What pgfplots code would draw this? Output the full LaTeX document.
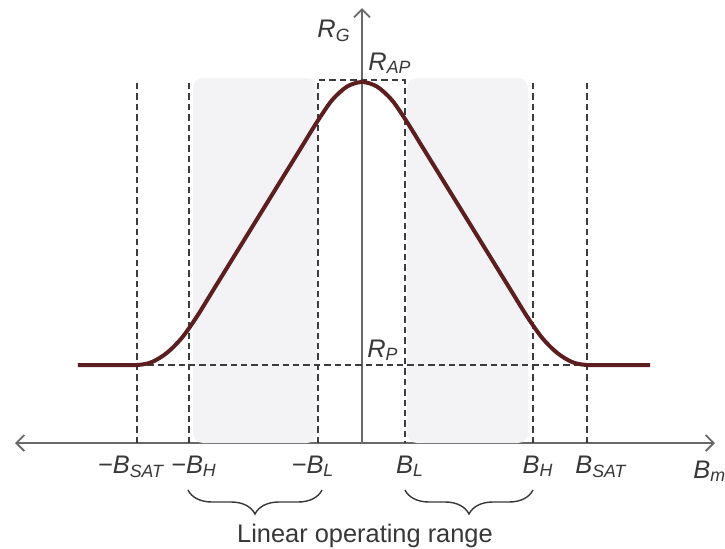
\documentclass[border=0pt]{standalone}
\usepackage{pgfplots}
\pgfplotsset{compat=1.18}
\usepackage{fontspec}
\setmainfont{Liberation Sans}
\usetikzlibrary{arrows.meta,decorations.pathreplacing}
\definecolor{curvec}{RGB}{92,30,30}
\definecolor{dashc}{RGB}{60,60,60}
\definecolor{shadec}{RGB}{243,243,246}
\definecolor{axisc}{RGB}{105,105,105}
\definecolor{txt}{RGB}{55,55,55}
\begin{document}
\begin{tikzpicture}[font=\fontsize{12.7}{15}\selectfont]
\begin{axis}[
  x=0.5pt, y=0.5pt,
  xmin=-347, xmax=353, ymin=0, ymax=435,
  enlargelimits=false,
  axis lines=middle,
  axis line style={axisc, line width=0.9pt},
  x axis line style={{Straight Barb[length=4pt,width=8pt]}-{Straight Barb[length=4pt,width=8pt]}},
  y axis line style={-{Straight Barb[length=4pt,width=8pt]}},
  xtick=\empty, ytick=\empty,
  clip=false,
]
% shaded linear ranges
\addplot[draw=none, fill=shadec, rounded corners=5pt] coordinates {(-169,0) (-169,365) (-45,365) (-45,0)} -- cycle;
\addplot[draw=none, fill=shadec, rounded corners=5pt] coordinates {(45,0) (45,365) (166,365) (166,0)} -- cycle;
% dashed guides
\pgfplotsset{dashline/.style={dashc, line width=0.9pt, dash pattern=on 3.2pt off 2pt}}
\addplot[dashline] coordinates {(-225,0) (-225,361)};
\addplot[dashline] coordinates {(-173,0) (-173,361)};
\addplot[dashline] coordinates {(171,0) (171,361)};
\addplot[dashline] coordinates {(225,0) (225,361)};
\addplot[dashline] coordinates {(-44,0) (-44,363) (43,363) (43,0)};
\addplot[dashline] coordinates {(-225,78) (225,78)};
% curve
\addplot[curvec, line width=2pt, smooth, tension=0.5] coordinates {
 (-284,78) (-255,78) (-225,78) (-210,81.0) (-195,90.2) (-180,105.3) (-165,126.6)
 (-150,150.9) (-135,175.2) (-120,199.5) (-105,223.8) (-90,248.1) (-75,272.4)
 (-60,296.7) (-45,321.0) (-30,342.8) (-15,356.4) (0,361)
 (15,356.4) (30,342.8) (45,321.0) (60,296.7) (75,272.4) (90,248.1) (105,223.8)
 (120,199.5) (135,175.2) (150,150.9) (165,126.6) (180,105.3) (195,90.2)
 (210,81.0) (225,78) (255,78) (288,78)
};
% labels
\node[txt, anchor=base] at (axis cs:-28,406) {\itshape R\textsubscript{G}};
\node[txt, anchor=base] at (axis cs:28,373) {\itshape R\textsubscript{AP}};
\node[txt, anchor=base] at (axis cs:21,86) {\itshape R\textsubscript{P}};
\node[txt, anchor=base] at (axis cs:-231,-30) {\itshape −B\textsubscript{SAT}};
\node[txt, anchor=base] at (axis cs:-168,-30) {\itshape −B\textsubscript{H}};
\node[txt, anchor=base] at (axis cs:-49,-30) {\itshape −B\textsubscript{L}};
\node[txt, anchor=base] at (axis cs:48,-30) {\itshape B\textsubscript{L}};
\node[txt, anchor=base] at (axis cs:176,-30) {\itshape B\textsubscript{H}};
\node[txt, anchor=base] at (axis cs:239,-30) {\itshape B\textsubscript{SAT}};
\node[txt, anchor=base west, inner sep=0pt] at (axis cs:331,-35) {\itshape B\textsubscript{m}};
\draw[txt, line width=0.7pt, decorate, decoration={brace, mirror, amplitude=12pt}] (axis cs:-174,-47) -- (axis cs:-40,-47);
\draw[txt, line width=0.7pt, decorate, decoration={brace, mirror, amplitude=12pt}] (axis cs:43,-47) -- (axis cs:171,-47);
\node[txt, anchor=base] at (axis cs:3,-99) {Linear operating range};
\coordinate (bbsw) at (axis cs:-362,-105);
\coordinate (bbne) at (axis cs:363,443);
\end{axis}
\pgfresetboundingbox
\useasboundingbox (bbsw) rectangle (bbne);
\end{tikzpicture}
\end{document}
